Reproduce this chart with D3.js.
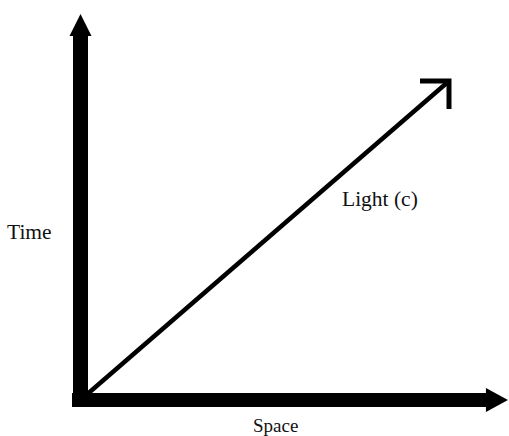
<!DOCTYPE html>
<html>
<head>
<meta charset="utf-8">
<script src="https://cdn.jsdelivr.net/npm/d3@7"></script>
<style>
  html, body { margin: 0; padding: 0; background: #fff; }
  svg { display: block; }
  text { font-family: "Liberation Serif", "Times New Roman", serif; fill: #111; }
</style>
</head>
<body>
<svg id="chart" width="509" height="436"></svg>
<script>
// Data
const axisLabels = ["Space", "Time"];
const lightLabel = ["Light (c)"];
const lightSpace = [0, 1];
const lightTime = [0, 1];
const axisMax = [1.16, 1.21];   // extent of the space and time axes (arrow tips)

const svg = d3.select("#chart");
const x = d3.scaleLinear().domain([0, 1]).range([80.5, 449]);
const y = d3.scaleLinear().domain([0, 1]).range([400, 81]);

const ink = "#000";

// Time axis (vertical)
const vTip = y(axisMax[1]);
svg.append("rect")
  .attr("x", x(0) - 7.5).attr("y", vTip + 21)
  .attr("width", 15).attr("height", y(0) + 6 - (vTip + 21))
  .attr("fill", ink);
svg.append("path")
  .attr("d", `M${x(0)},${vTip} L${x(0) + 11},${vTip + 22} L${x(0) - 11},${vTip + 22} Z`)
  .attr("fill", ink);

// Space axis (horizontal)
const hTip = x(axisMax[0]);
svg.append("rect")
  .attr("x", x(0) - 8.5).attr("y", y(0) - 7)
  .attr("width", hTip - 21 - (x(0) - 8.5)).attr("height", 14)
  .attr("fill", ink);
svg.append("path")
  .attr("d", `M${hTip},${y(0)} L${hTip - 22},${y(0) - 12} L${hTip - 22},${y(0) + 12} Z`)
  .attr("fill", ink);

// Light line
const pts = lightSpace.map((s, i) => [x(s), y(lightTime[i])]);
svg.append("path")
  .attr("d", d3.line()(pts))
  .attr("stroke", ink).attr("stroke-width", 4.5).attr("fill", "none");
const tip = pts[pts.length - 1];
svg.append("path")
  .attr("d", `M${tip[0] - 29},${tip[1]} L${tip[0]},${tip[1]} L${tip[0]},${tip[1] + 28}`)
  .attr("stroke", ink).attr("stroke-width", 5).attr("fill", "none")
  .attr("stroke-linejoin", "miter");

// Labels
svg.append("text")
  .attr("x", 7).attr("y", 239)
  .attr("font-size", 21.5)
  .text(axisLabels[1]);
svg.append("text")
  .attr("x", 342).attr("y", 206)
  .attr("font-size", 21.5)
  .text(lightLabel[0]);
svg.append("text")
  .attr("x", 253).attr("y", 432)
  .attr("font-size", 19)
  .text(axisLabels[0]);
</script>
</body>
</html>
